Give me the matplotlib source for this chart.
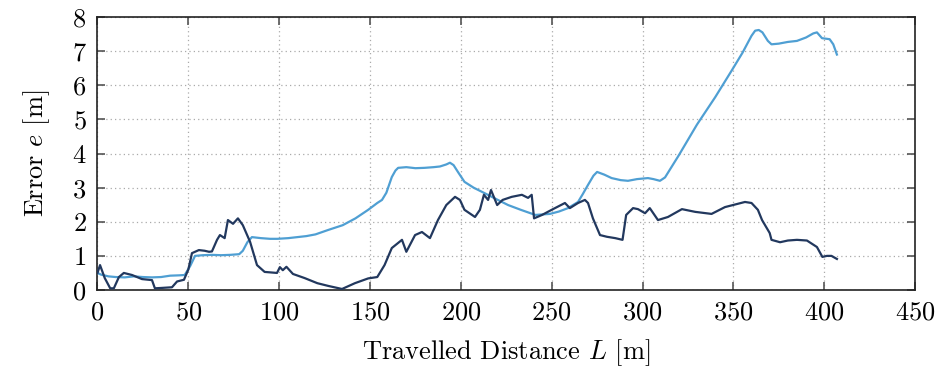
import matplotlib
matplotlib.use("Agg")
import matplotlib.pyplot as plt

plt.rcParams['font.family'] = ['cmr10', 'DejaVu Serif']
plt.rcParams['mathtext.fontset'] = 'cm'
plt.rcParams['axes.formatter.use_mathtext'] = True

# Light blue series
L_light = [0, 2, 6, 10, 15, 20, 25, 30, 35, 40, 45, 48, 51, 53.7, 58, 63, 68, 73, 78, 80, 82.5, 85,
           90, 95, 99, 105, 110, 115, 120, 127, 135, 142, 149, 154, 156.6, 159, 162, 164, 165.5,
           170, 175, 180, 185, 188.5, 192, 194, 196, 198.4, 202, 207, 213, 220, 226, 233, 241,
           249, 254, 259, 264.5, 267, 270, 273, 275, 279, 283, 288, 292, 297, 303, 306, 309.6,
           312.4, 320, 330, 340, 349.3, 355, 358, 360, 362, 364, 366, 369, 371, 375, 380, 385,
           390, 394, 396, 398.8, 403, 405, 407]
e_light = [0.5, 0.45, 0.4, 0.38, 0.37, 0.4, 0.38, 0.37, 0.38, 0.42, 0.43, 0.44, 0.7, 1.0, 1.02, 1.03,
           1.02, 1.03, 1.05, 1.15, 1.4, 1.55, 1.52, 1.5, 1.5, 1.52, 1.55, 1.58, 1.63, 1.76, 1.9,
           2.1, 2.35, 2.55, 2.64, 2.85, 3.31, 3.5, 3.58, 3.6, 3.57, 3.58, 3.6, 3.62, 3.68, 3.73,
           3.66, 3.46, 3.17, 3.0, 2.84, 2.65, 2.49, 2.35, 2.2, 2.23, 2.3, 2.4, 2.58, 2.8, 3.08,
           3.35, 3.46, 3.38, 3.28, 3.22, 3.2, 3.25, 3.28, 3.25, 3.2, 3.3, 3.95, 4.85, 5.65, 6.45,
           6.95, 7.25, 7.45, 7.6, 7.62, 7.55, 7.3, 7.2, 7.22, 7.27, 7.3, 7.4, 7.52, 7.55, 7.38,
           7.35, 7.2, 6.9]

# Dark navy series
L_dark = [0, 1.4, 4, 7, 9, 11.8, 14.5, 19, 24.5, 30, 31.6, 35, 41, 43.8, 47.6, 50, 52, 55.8, 59,
          61.4, 63, 65.8, 67.4, 70, 71.8, 74.6, 77.3, 80, 84, 87.8, 92, 98.8, 100.4, 102, 104,
          107.6, 114, 121, 127, 134.6, 141.7, 149, 154, 158, 162, 167.6, 170, 174.8, 178.6, 183,
          187.4, 192, 196.8, 199.5, 202, 207.8, 210.5, 212.7, 215, 216.6, 220, 223, 228, 233.6,
          237, 239, 240.3, 242.5, 244.7, 250, 257.3, 260, 264.5, 268.3, 270, 272.7, 276.6, 280.4,
          285, 289, 291, 294.8, 297.5, 301.4, 304, 308.5, 314, 321.7, 329, 338, 345.4, 356.4,
          360, 363.5, 365.8, 370, 371, 375.7, 380, 385, 390.5, 396, 399, 401.5, 404, 407]
e_dark = [0.5, 0.73, 0.35, 0.05, 0.05, 0.38, 0.5, 0.44, 0.32, 0.29, 0.05, 0.06, 0.08, 0.25, 0.3,
          0.6, 1.08, 1.17, 1.15, 1.12, 1.13, 1.47, 1.61, 1.52, 2.05, 1.94, 2.1, 1.9, 1.41, 0.73,
          0.53, 0.5, 0.67, 0.58, 0.68, 0.47, 0.35, 0.2, 0.12, 0.03, 0.2, 0.34, 0.38, 0.73, 1.23,
          1.47, 1.12, 1.61, 1.7, 1.52, 2.05, 2.49, 2.73, 2.64, 2.35, 2.14, 2.35, 2.79, 2.64, 2.93,
          2.49, 2.64, 2.73, 2.79, 2.7, 2.79, 2.1, 2.15, 2.2, 2.35, 2.55, 2.4, 2.55, 2.64, 2.55,
          2.1, 1.61, 1.56, 1.52, 1.47, 2.2, 2.4, 2.37, 2.25, 2.4, 2.05, 2.14, 2.37, 2.29, 2.23,
          2.43, 2.58, 2.55, 2.35, 2.05, 1.67, 1.47, 1.4, 1.45, 1.47, 1.45, 1.26, 0.97, 1.0, 1.0,
          0.91]

x_ticks = [0, 50, 100, 150, 200, 250, 300, 350, 400, 450]
y_ticks = [0, 1, 2, 3, 4, 5, 6, 7, 8]

fig = plt.figure(figsize=(9.41, 3.70), dpi=100)
ax = fig.add_axes([0.1036, 0.2162, 0.8688, 0.7378])

ax.plot(L_light, e_light, color='#4f9fd3', lw=1.6, zorder=3)
ax.plot(L_dark, e_dark, color='#22385e', lw=1.6, zorder=4)

ax.set_xlim(0, 450)
ax.set_ylim(0, 8)
ax.set_xticks(x_ticks)
ax.set_yticks(y_ticks)
ax.grid(True, linestyle=(0, (1, 2.5)), color='#aaaaaa', lw=0.9)
ax.tick_params(direction='in', top=True, right=True, length=6, width=1.2,
               labelsize=19, color='#555555', pad=8)
for s in ax.spines.values():
    s.set_linewidth(1.2)
    s.set_color('#222222')

ax.set_xlabel('Travelled Distance $L$ [m]', fontsize=19, labelpad=9)
ax.set_ylabel('Error $e$ [m]', fontsize=19, labelpad=14)

fig.savefig('out.png', dpi=100)
